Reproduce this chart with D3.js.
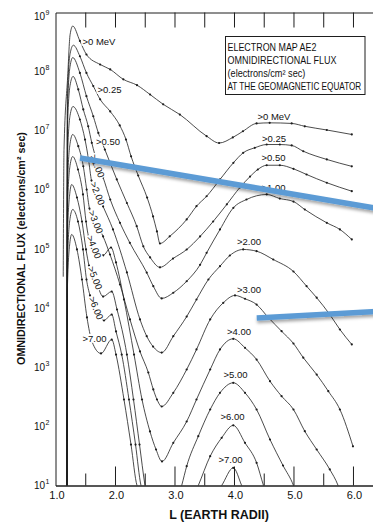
<!DOCTYPE html>
<html>
<head>
<meta charset="utf-8">
<script src="https://cdn.jsdelivr.net/npm/d3@7/dist/d3.min.js"></script>
<style>
  html, body { margin: 0; padding: 0; background: #fff; }
  svg { display: block; }
  text { font-family: "Liberation Sans", Arial, sans-serif; fill: #111; }
</style>
</head>
<body>
<svg id="chart" width="373" height="523"></svg>
<script>
// Electron map AE2: omnidirectional integral flux (electrons/cm^2 sec) vs L,
// one curve per energy threshold. Each point is [L (earth radii), flux].
const fluxGT0 = [
  [1.13, 3.4e4], [1.143, 4.8e6], [1.205, 8.3e7], [1.245, 4.2e8], [1.29, 5.9e8],
  [1.41, 3.3e8], [1.52, 1.95e8], [1.75, 1.32e8], [1.92, 1.09e8], [2.14, 7.4e7],
  [2.37, 5.9e7], [2.59, 4.1e7], [2.81, 2.8e7], [3.09, 1.88e7], [3.54, 8.1e6],
  [3.75, 6.2e6], [3.98, 7.7e6], [4.15, 9.8e6], [4.38, 1.33e7], [4.6, 1.36e7],
  [4.97, 1.33e7], [5.19, 1.19e7], [5.56, 1.03e7], [5.98, 8.65e6]
];
const fluxGT025 = [
  [1.193, 10], [1.2, 3.5e7], [1.245, 2.0e8], [1.30, 2.8e8],
  [1.41, 1.82e8], [1.52, 9.5e7], [1.635, 5.7e7], [1.75, 3.4e7], [1.92, 2.12e7],
  [2.08, 1.23e7], [2.185, 7.1e6], [2.27, 3.7e6], [2.39, 1.75e6], [2.54, 7.4e5],
  [2.64, 3.55e5], [2.705, 1.98e5], [2.756, 1.24e5], [2.92, 1.64e5], [3.205, 3.16e5],
  [3.37, 5.3e5], [3.54, 7.8e5], [3.765, 1.5e6], [3.99, 2.87e6], [4.155, 4.24e6],
  [4.35, 5.15e6], [4.55, 5.85e6], [4.77, 5.85e6], [4.97, 5.64e6], [5.165, 4.5e6],
  [5.56, 3.27e6], [5.98, 2.5e6]
];
const fluxGT050 = [
  [1.193, 10], [1.2, 2.18e7], [1.245, 1.23e8], [1.29, 1.73e8],
  [1.41, 9.5e7], [1.52, 3.84e7], [1.635, 1.76e7], [1.72, 9.2e6], [1.83, 4.8e6],
  [2.03, 1.5e6], [2.2, 6.0e5], [2.365, 2.43e5], [2.476, 1.11e5], [2.59, 7.2e4],
  [2.756, 4.9e4], [2.975, 6.9e4], [3.205, 9.8e4], [3.43, 1.63e5], [3.65, 2.92e5],
  [3.88, 5.7e5], [4.1, 1.1e6], [4.27, 1.68e6], [4.4, 2.21e6], [4.55, 2.61e6],
  [4.77, 2.61e6], [5.0, 2.27e6], [5.22, 1.82e6], [5.56, 1.32e6], [5.98, 9.5e5]
];
const fluxGT100 = [
  [1.193, 10], [1.2, 1.04e7], [1.245, 5.86e7], [1.295, 8.3e7],
  [1.383, 5.0e7], [1.467, 2.29e7], [1.55, 1.19e7], [1.61, 6.25e6], [1.703, 2.9e6],
  [1.8, 1.62e6], [1.92, 6.87e5], [2.084, 2.77e5], [2.25, 1.27e5], [2.533, 4.0e4],
  [2.644, 2.35e4], [2.785, 1.46e4], [2.98, 1.82e4], [3.205, 2.85e4], [3.43, 5.4e4],
  [3.54, 8.6e4], [3.765, 2.14e5], [3.99, 4.98e5], [4.21, 6.87e5], [4.55, 8.36e5],
  [4.77, 7.14e5], [5.0, 6.35e5], [5.19, 4.66e5], [5.56, 2.77e5], [5.78, 2.14e5],
  [5.98, 1.45e5]
];
const fluxGT200 = [
  [1.193, 10], [1.2, 3.24e6], [1.245, 1.82e7], [1.294, 2.57e7],
  [1.41, 1.55e7], [1.496, 7.1e6], [1.555, 3.27e6], [1.605, 1.44e6], [1.706, 8.7e5],
  [1.8, 5.24e5], [1.966, 2.14e5], [2.2, 4.01e4], [2.42, 6.43e3], [2.533, 3.35e3],
  [2.64, 2.24e3], [2.785, 1.77e3], [2.98, 3.35e3], [3.205, 7.2e3], [3.37, 1.4e4],
  [3.57, 3.05e4], [3.765, 5.12e4], [3.93, 7.76e4], [4.155, 9.82e4], [4.38, 9.18e4],
  [4.66, 6.64e4], [5.0, 4.16e4], [5.22, 2.35e4], [5.39, 1.5e4], [5.61, 7.8e3],
  [5.78, 4.35e3], [5.98, 2.43e3]
];
const fluxGT300 = [
  [1.193, 10], [1.2, 1.09e6], [1.245, 6.1e6], [1.289, 8.65e6],
  [1.383, 5.48e6], [1.467, 2.51e6], [1.524, 1.01e6], [1.571, 4.84e5], [1.677, 2.86e5],
  [1.8, 1.63e5], [1.916, 8.07e4], [2.084, 2.51e4], [2.252, 6.43e3], [2.42, 1.85e3],
  [2.56, 815], [2.644, 421], [2.706, 285], [2.785, 217], [2.98, 370], [3.205, 916],
  [3.37, 2.0e3], [3.6, 6.43e3], [3.82, 1.23e4], [4.017, 1.64e4], [4.185, 1.44e4],
  [4.38, 1.15e4], [4.576, 6.95e3], [4.8, 4.07e3], [5.0, 2.52e3], [5.165, 1.45e3],
  [5.39, 753], [5.585, 394], [5.78, 193], [6.0, 46]
];
const fluxGT400 = [
  [1.193, 10], [1.2, 4.6e5], [1.245, 2.6e6], [1.289, 3.66e6],
  [1.378, 2.21e6], [1.462, 8.36e5], [1.513, 2.92e5], [1.555, 1.63e5], [1.647, 1.08e5],
  [1.8, 7.8e4], [1.933, 1.06e5], [2.017, 5.92e4], [2.151, 1.4e4], [2.32, 1.64e3],
  [2.454, 285], [2.588, 82], [2.69, 40.6], [2.79, 25.5], [2.98, 52.7], [3.205, 121],
  [3.37, 285], [3.6, 916], [3.765, 2.0e3], [3.988, 3.03e3], [4.185, 2.13e3],
  [4.38, 1.35e3], [4.605, 581], [4.8, 324], [5.0, 193], [5.19, 82.8], [5.39, 40.6],
  [5.61, 18.7], [5.75, 10], [5.85, 5]
];
const fluxGT500 = [
  [1.193, 10], [1.2, 1.55e5], [1.24, 8.7e5], [1.272, 1.23e6],
  [1.361, 7.43e5], [1.445, 2.92e5], [1.513, 9.82e4], [1.563, 5.26e4], [1.664, 3.24e4],
  [1.8, 1.57e4], [1.945, 1.91e4], [2.034, 9.48e3], [2.2, 1.64e3], [2.311, 285],
  [2.412, 49.3], [2.504, 10], [2.8, 1], [3.121, 10], [3.205, 21.2], [3.4, 68.2],
  [3.6, 193], [3.765, 370], [3.988, 546], [4.185, 370], [4.38, 193], [4.605, 60],
  [4.824, 21.8], [5.0, 10], [5.1, 5]
];
const fluxGT600 = [
  [1.193, 10], [1.2, 5.86e4], [1.245, 3.3e5], [1.289, 4.66e5],
  [1.378, 2.92e5], [1.462, 9.82e4], [1.521, 3.05e4], [1.58, 1.64e4], [1.681, 1.0e4],
  [1.815, 6.18e3], [1.945, 7.8e3], [2.017, 4.03e3], [2.113, 1.64e3], [2.235, 285],
  [2.345, 49.3], [2.437, 10], [2.9, 1], [3.4, 10], [3.6, 31.3], [3.793, 64.1],
  [3.988, 104], [4.185, 52.7], [4.38, 24.2], [4.496, 10], [4.6, 5]
];
const fluxGT700 = [
  [1.193, 10], [1.2, 2.2e4], [1.24, 1.24e5], [1.272, 1.76e5],
  [1.361, 9.82e4], [1.445, 3.05e4], [1.529, 6.95e3], [1.613, 2.73e3], [1.765, 1.71e3],
  [1.945, 2.94e3], [2.017, 1.64e3], [2.151, 285], [2.269, 49.3], [2.37, 10],
  [3.0, 1], [3.793, 10], [3.988, 19.9], [4.129, 10], [4.25, 5]
];

const energyNames = [">0 MeV", ">0.25", ">0.50", ">1.00", ">2.00", ">3.00", ">4.00", ">5.00", ">6.00", ">7.00"];
const energySeries = [fluxGT0, fluxGT025, fluxGT050, fluxGT100, fluxGT200,
                      fluxGT300, fluxGT400, fluxGT500, fluxGT600, fluxGT700];

// Curve labels: [text, L, flux, rotation in degrees]
const innerLabels = [
  [">0 MeV", 1.73, 3.24e8, 0],
  [">0.25", 1.908, 4.99e7, 0],
  [">0.50", 1.882, 6.65e6, 0],
  [">1.00", 1.703, 2.54e6, 68],
  [">2.00", 1.706, 8.7e5, 68],
  [">3.00", 1.677, 2.86e5, 68],
  [">4.00", 1.647, 1.08e5, 68],
  [">5.00", 1.664, 3.24e4, 68],
  [">6.00", 1.681, 1.0e4, 68],
  [">7.00", 1.655, 3.06e3, 0]
];
const outerLabels = [
  [">0 MeV", 4.672, 1.76e7],
  [">0.25", 4.672, 7.4e6],
  [">0.50", 4.664, 3.49e6],
  [">1.00", 4.664, 1.08e6],
  [">2.00", 4.252, 1.32e5],
  [">3.00", 4.252, 2.07e4],
  [">4.00", 4.084, 4.07e3],
  [">5.00", 4.025, 753],
  [">6.00", 3.975, 145],
  [">7.00", 3.941, 27.5]
];

// Highlight strokes drawn over the chart: pairs of [L, flux] end points
const highlightStrokes = [
  [[1.412, 3.46e6], [6.39, 4.88e5]],
  [[4.382, 6.81e3], [6.39, 8.77e3]]
];

const xMajorTicks = [2, 3, 4, 5, 6];
const xMinorTicks = [1.5, 2.5, 3.5, 4.5, 5.5];
const xTopTicks = [1.5, 2, 2.5, 3, 3.5, 4, 4.5, 5, 5.5, 6];
const xTickLabels = [[1, "1.0"], [2, "2.0"], [3, "3.0"], [4, "4.0"], [5, "5.0"], [6, "6.0"]];
const yTickExponents = [1, 2, 3, 4, 5, 6, 7, 8, 9];
const legendLines = ["ELECTRON MAP AE2", "OMNIDIRECTIONAL FLUX", "(electrons/cm\u00B2 sec)", "AT THE GEOMAGNETIC EQUATOR"];

// ---------------------------------------------------------------------------
const svg = d3.select("#chart");
const ink = "#1e1e1e";

const x = d3.scaleLinear().domain([1, 6.35]).range([55.5, 373.8]);
const y = d3.scaleLog().domain([10, 1e9]).range([485.5, 12.5]);

const defs = svg.append("defs");
defs.append("clipPath").attr("id", "plot-clip")
  .append("rect").attr("x", 55.5).attr("y", 12.5).attr("width", 320).attr("height", 473);

const shadow = defs.append("filter").attr("id", "soft-shadow")
  .attr("filterUnits", "userSpaceOnUse")
  .attr("x", 0).attr("y", 0).attr("width", 373).attr("height", 523);
shadow.append("feDropShadow")
  .attr("dx", 0.5).attr("dy", 2.5).attr("stdDeviation", 1.6)
  .attr("flood-color", "#000").attr("flood-opacity", 0.35);

// Narrow a text horizontally (glyphs and spacing) so that it spans `width`
function fitWidth(sel, width) {
  sel.each(function () {
    const t = d3.select(this);
    const natural = this.getComputedTextLength();
    const k = Math.min(1, width / natural);
    const prev = t.attr("transform") || "";
    t.attr("transform", `${prev} scale(${k},1)`);
  });
}

// Frame and ticks
function styleAxis(g) {
  g.selectAll("path, line").attr("stroke", ink).attr("stroke-width", 1);
  g.selectAll("text").remove();
}
svg.append("g").attr("transform", `translate(0,${y(10)})`)
  .call(d3.axisBottom(x).tickValues(xMajorTicks).tickSize(-19).tickSizeOuter(0).tickFormat(""))
  .call(styleAxis);
svg.append("g").attr("transform", `translate(0,${y(10)})`)
  .call(d3.axisBottom(x).tickValues(xMinorTicks).tickSize(-12).tickSizeOuter(0).tickFormat(""))
  .call(styleAxis);
svg.append("g").attr("transform", `translate(0,${y(1e9)})`)
  .call(d3.axisTop(x).tickValues(xTopTicks).tickSize(-15).tickSizeOuter(0).tickFormat(""))
  .call(styleAxis);
svg.append("g").attr("transform", `translate(${x(1)},0)`)
  .call(d3.axisLeft(y).tickValues([]).tickSizeOuter(0))
  .call(styleAxis);

// Tick labels
svg.append("g").selectAll("text").data(xTickLabels).join("text")
  .attr("x", d => x(d[0]) + 1.5).attr("y", 499)
  .attr("text-anchor", "middle").attr("font-size", 11).text(d => d[1]);

const yLab = svg.append("g").selectAll("g").data(yTickExponents).join("g")
  .attr("transform", d => `translate(0,${Math.max(y(Math.pow(10, d)), 16.5)})`);
yLab.append("text").attr("x", 45).attr("y", 3.6)
  .attr("text-anchor", "end").attr("font-size", 10).text("10");
yLab.append("text").attr("x", 45.4).attr("y", -1.5)
  .attr("font-size", 7).text(d => d);

// Axis titles
svg.append("text")
  .attr("transform", "translate(25,248.5) rotate(-90)")
  .attr("text-anchor", "middle").attr("font-size", 11).attr("font-weight", "bold")
  .text("OMNIDIRECTIONAL FLUX (electrons/cm\u00B2 sec)")
  .call(fitWidth, 233);
svg.append("text")
  .attr("transform", "translate(219,519)")
  .attr("text-anchor", "middle").attr("font-size", 12.5).attr("font-weight", "bold")
  .text("L (EARTH RADII)")
  .call(fitWidth, 102);

// Curves
const line = d3.line()
  .x(d => x(d[0]))
  .y(d => y(d[1]))
  .curve(d3.curveMonotoneX);

const plot = svg.append("g").attr("clip-path", "url(#plot-clip)");
plot.selectAll("path.flux").data(energySeries).join("path")
  .attr("class", "flux")
  .attr("d", line)
  .attr("fill", "none").attr("stroke", ink).attr("stroke-width", 0.8);

// Measurement dots
const dots = energySeries.flatMap(s => s.filter(d => d[0] >= 1.35 && d[1] > 10.5));
plot.selectAll("circle").data(dots).join("circle")
  .attr("cx", d => x(d[0])).attr("cy", d => y(d[1])).attr("r", 1.1).attr("fill", ink);

// Labels sitting on the inner-belt curves (the curve is broken under them)
const inner = svg.append("g").selectAll("g").data(innerLabels).join("g")
  .attr("transform", d => `translate(${x(d[1])},${y(d[2])}) rotate(${d[3]})`);
inner.append("rect").attr("fill", "#fff");
inner.append("text")
  .attr("text-anchor", "middle").attr("dy", "0.35em").attr("font-size", 9.5)
  .text(d => d[0]);
inner.each(function () {
  const g = d3.select(this);
  const b = g.select("text").node().getBBox();
  g.select("rect").attr("x", b.x - 1).attr("y", b.y + 1).attr("width", b.width + 2).attr("height", b.height - 2);
});

// Labels on the outer-belt curves
svg.append("g").selectAll("text").data(outerLabels).join("text")
  .attr("x", d => x(d[1])).attr("y", d => y(d[2]))
  .attr("dy", "0.35em").attr("text-anchor", "middle").attr("font-size", 9.5)
  .attr("stroke", "#fff").attr("stroke-width", 2).attr("paint-order", "stroke")
  .text(d => d[0]);

// Legend box
const legend = svg.append("g");
legend.append("rect").attr("x", 225.5).attr("y", 36.5).attr("width", 139.5).attr("height", 58)
  .attr("fill", "#fff").attr("stroke", ink).attr("stroke-width", 1);
const legendWidths = [89, 109, 78, 134];
legend.selectAll("text").data(legendLines).join("text")
  .attr("transform", (d, i) => `translate(227.5,${50.5 + i * 13})`)
  .attr("font-size", 10)
  .text(d => d)
  .each(function (d, i) { d3.select(this).call(fitWidth, legendWidths[i]); });

// Highlight strokes on top
svg.append("g").attr("filter", "url(#soft-shadow)")
  .selectAll("line").data(highlightStrokes).join("line")
  .attr("x1", d => x(d[0][0])).attr("y1", d => y(d[0][1]))
  .attr("x2", d => x(d[1][0])).attr("y2", d => y(d[1][1]))
  .attr("stroke", "#5b9bd5").attr("stroke-width", 5.5).attr("stroke-linecap", "butt");
</script>
</body>
</html>
